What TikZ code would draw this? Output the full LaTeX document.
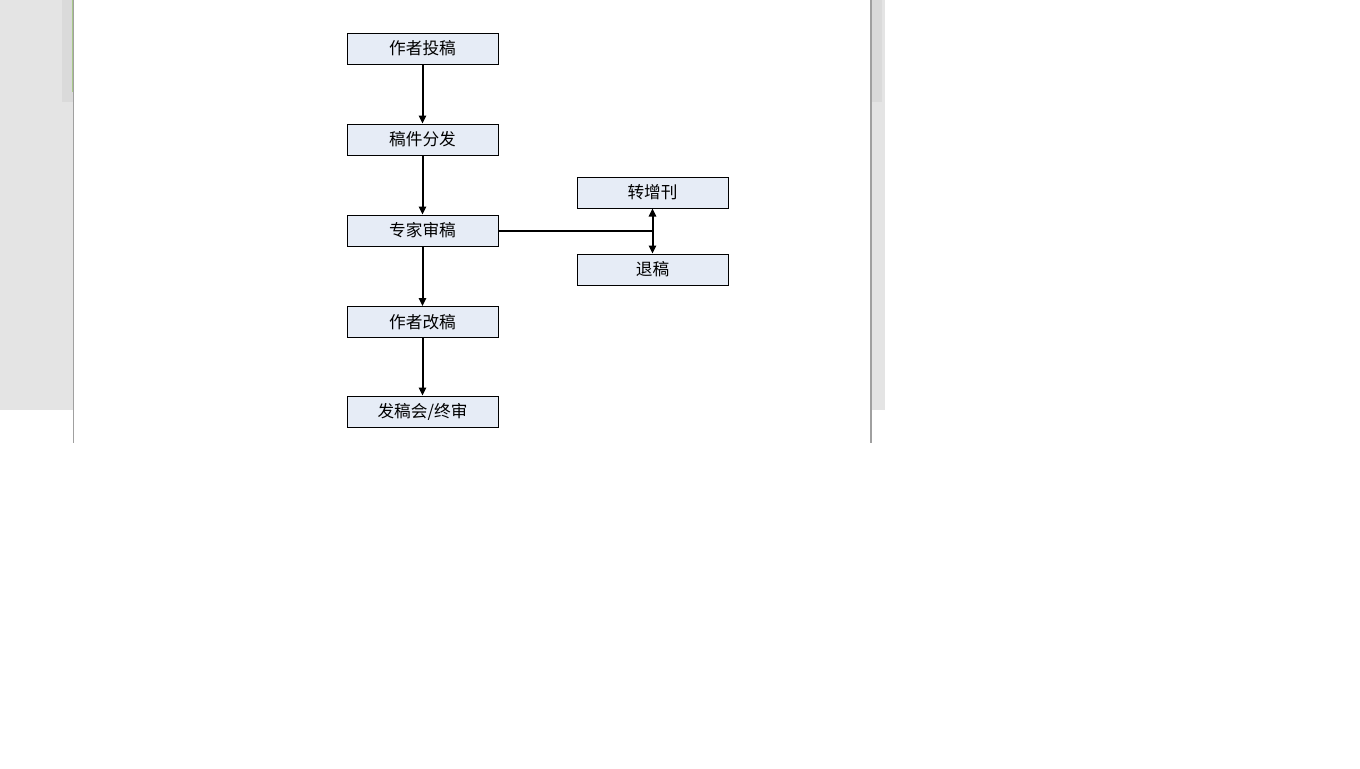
\documentclass[tikz,border=0pt]{standalone}
\usepackage{fontspec}
\newfontfamily\cjk{Noto Sans CJK SC}
\usetikzlibrary{arrows.meta}
\definecolor{bggray}{HTML}{E4E4E4}
\definecolor{bandgray}{HTML}{DADADA}
\definecolor{edgegray}{HTML}{A0A0A0}
\definecolor{greenline}{HTML}{A8C88A}
\definecolor{boxfill}{HTML}{E6ECF6}
\begin{document}
\begin{tikzpicture}[x=0.75pt,y=-0.75pt,
  box/.style={draw=black, fill=boxfill, minimum width=113.25pt, minimum height=23.25pt,
    inner sep=0pt, line width=0.75pt, font=\cjk\fontsize{12.5}{14}\selectfont},
  arr/.style={-{Triangle[length=6pt,width=5.5pt]}, line width=1.5pt},
  conn/.style={line width=1.5pt}]
\useasboundingbox (0,0) rectangle (1360,768);
% page background
\fill[white] (0,0) rectangle (1360,768);
\fill[bggray] (0,0) rectangle (885,410);
\fill[bandgray] (62,0) rectangle (73,102);
\fill[bandgray] (872,0) rectangle (882,102);
\fill[white] (73,0) rectangle (871,443);
\draw[edgegray, line width=1.2pt] (73.5,0) -- (73.5,443);
\draw[edgegray, line width=1.2pt] (871,0) -- (871,443);
\draw[greenline, line width=1.2pt] (72.5,0) -- (72.5,92);
% nodes
\node[box] (a) at (422.5,48.5) {作者投稿};
\node[box] (b) at (422.5,139.5) {稿件分发};
\node[box] (c) at (422.5,230.5) {专家审稿};
\node[box] (d) at (422.5,322) {作者改稿};
\node[box] (e) at (422.5,411.5) {发稿会/终审};
\node[box] (f) at (652.5,192.5) {转增刊};
\node[box] (g) at (652.5,269.5) {退稿};
% connectors
\draw[arr] (a) -- (b);
\draw[arr] (b) -- (c);
\draw[arr] (c) -- (d);
\draw[arr] (d) -- (e);
\coordinate (j) at (652.5,231);
\draw[conn] (c.east |- j) -- (j);
\draw[arr] (j) -- (f);
\draw[arr] (j) -- (g);
\end{tikzpicture}
\end{document}
